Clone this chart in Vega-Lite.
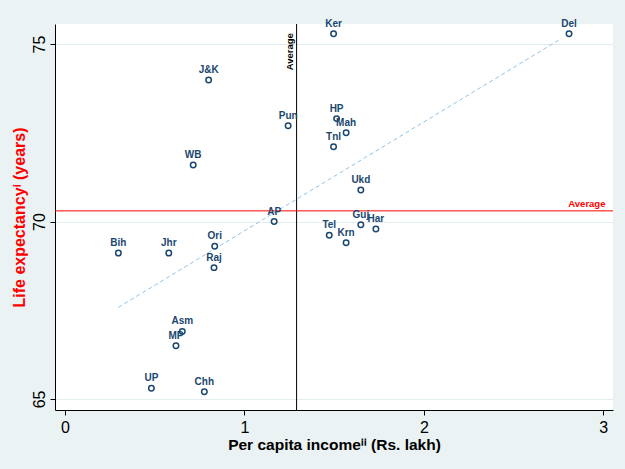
{
  "$schema": "https://vega.github.io/schema/vega-lite/v6.json",
  "width": 558,
  "height": 386,
  "autosize": {"type": "none"},
  "padding": {"left": 55, "top": 24, "right": 12, "bottom": 59},
  "background": "#eaf2f3",
  "config": {"view": {"stroke": null, "fill": "white"}, "font": "Liberation Sans"},
  "datasets": {
    "states": [
      {"state": "Ker", "income": 1.497, "life": 75.29},
      {"state": "Del", "income": 2.809, "life": 75.29},
      {"state": "J&K", "income": 0.801, "life": 73.99},
      {"state": "Pun", "income": 1.244, "life": 72.70},
      {"state": "HP", "income": 1.514, "life": 72.90},
      {"state": "Mah", "income": 1.567, "life": 72.50},
      {"state": "Tnl", "income": 1.497, "life": 72.11},
      {"state": "WB", "income": 0.715, "life": 71.59},
      {"state": "Ukd", "income": 1.649, "life": 70.89},
      {"state": "AP", "income": 1.166, "life": 70.00},
      {"state": "Guj", "income": 1.649, "life": 69.91},
      {"state": "Har", "income": 1.733, "life": 69.79},
      {"state": "Tel", "income": 1.473, "life": 69.61},
      {"state": "Krn", "income": 1.567, "life": 69.40},
      {"state": "Ori", "income": 0.835, "life": 69.30},
      {"state": "Bih", "income": 0.298, "life": 69.11},
      {"state": "Jhr", "income": 0.579, "life": 69.11},
      {"state": "Raj", "income": 0.831, "life": 68.70},
      {"state": "Asm", "income": 0.654, "life": 66.90},
      {"state": "MP", "income": 0.619, "life": 66.50},
      {"state": "UP", "income": 0.482, "life": 65.30},
      {"state": "Chh", "income": 0.777, "life": 65.20}
    ],
    "trend": [
      {"income": 0.298, "life": 67.58},
      {"income": 2.767, "life": 75.16}
    ],
    "averages": [
      {"income": 1.291, "life": 70.30}
    ]
  },
  "layer": [
    {
      "data": {"name": "trend"},
      "mark": {"type": "line", "color": "#8fc3ea", "strokeDash": [4, 3], "strokeWidth": 1},
      "encoding": {
        "x": {
          "field": "income", "type": "quantitative",
          "scale": {"domain": [-0.055, 3.054], "nice": false, "zero": false},
          "axis": {
            "title": "Per capita incomeⁱⁱ (Rs. lakh)",
            "values": [0, 1, 2, 3], "format": "d", "grid": false,
            "domainColor": "black", "domainWidth": 1, "tickColor": "black", "tickWidth": 1, "tickSize": 5,
            "labelFontSize": 16, "labelColor": "black", "labelPadding": 4, "labelFlush": false,
            "labelFont": "Liberation Sans",
            "titleFont": "Liberation Sans", "titleFontSize": 15.5, "titleFontWeight": "bold", "titleColor": "black",
            "titleY": 39, "titleBaseline": "alphabetic"
          }
        },
        "y": {
          "field": "life", "type": "quantitative",
          "scale": {"domain": [64.687, 75.567], "nice": false, "zero": false},
          "axis": {
            "title": "Life expectancyⁱ (years)",
            "values": [65, 70, 75], "format": "d", "grid": true, "gridColor": "#e3ecef", "gridWidth": 1,
            "domainColor": "black", "domainWidth": 1, "tickColor": "black", "tickWidth": 1, "tickSize": 5,
            "labelAngle": -90, "labelAlign": "center", "labelBaseline": "alphabetic", "labelPadding": 6,
            "labelFontSize": 16, "labelColor": "black", "labelFlush": false, "labelFont": "Liberation Sans",
            "titleFont": "Liberation Sans", "titleFontSize": 16, "titleFontWeight": "bold", "titleColor": "#ff0000",
            "titleAngle": -90, "titleX": -31, "titleY": 193, "titleAlign": "center", "titleBaseline": "alphabetic"
          }
        }
      }
    },
    {
      "data": {"name": "averages"},
      "mark": {"type": "rule", "color": "black", "strokeWidth": 1},
      "encoding": {
        "x": {"field": "income", "type": "quantitative", "scale": {"domain": [-0.055, 3.054], "nice": false, "zero": false}}
      }
    },
    {
      "data": {"name": "averages"},
      "mark": {"type": "rule", "color": "#ff0000", "strokeWidth": 1},
      "encoding": {
        "y": {"field": "life", "type": "quantitative", "scale": {"domain": [64.687, 75.567], "nice": false, "zero": false}}
      }
    },
    {
      "data": {"name": "averages"},
      "mark": {"type": "text", "text": "Average", "angle": 270, "align": "right", "baseline": "bottom", "dy": -2, "fontSize": 9.5, "fontWeight": "bold", "color": "black"},
      "encoding": {
        "x": {"field": "income", "type": "quantitative", "scale": {"domain": [-0.055, 3.054], "nice": false, "zero": false}},
        "y": {"datum": 75.31, "type": "quantitative", "scale": {"domain": [64.687, 75.567], "nice": false, "zero": false}}
      }
    },
    {
      "data": {"name": "averages"},
      "mark": {"type": "text", "text": "Average", "align": "right", "baseline": "alphabetic", "dy": -4, "fontSize": 9.5, "fontWeight": "bold", "color": "#ff0000"},
      "encoding": {
        "x": {"datum": 3.012, "type": "quantitative", "scale": {"domain": [-0.055, 3.054], "nice": false, "zero": false}},
        "y": {"field": "life", "type": "quantitative", "scale": {"domain": [64.687, 75.567], "nice": false, "zero": false}}
      }
    },
    {
      "data": {"name": "states"},
      "mark": {"type": "point", "shape": "circle", "filled": false, "color": "#1a476f", "strokeWidth": 1.5, "size": 30, "opacity": 1},
      "encoding": {
        "x": {"field": "income", "type": "quantitative", "scale": {"domain": [-0.055, 3.054], "nice": false, "zero": false}},
        "y": {"field": "life", "type": "quantitative", "scale": {"domain": [64.687, 75.567], "nice": false, "zero": false}}
      }
    },
    {
      "data": {"name": "states"},
      "mark": {"type": "text", "fontSize": 10, "fontWeight": "bold", "color": "#1a476f", "dy": -7, "baseline": "alphabetic", "align": "center"},
      "encoding": {
        "x": {"field": "income", "type": "quantitative", "scale": {"domain": [-0.055, 3.054], "nice": false, "zero": false}},
        "y": {"field": "life", "type": "quantitative", "scale": {"domain": [64.687, 75.567], "nice": false, "zero": false}},
        "text": {"field": "state"}
      }
    }
  ]
}
